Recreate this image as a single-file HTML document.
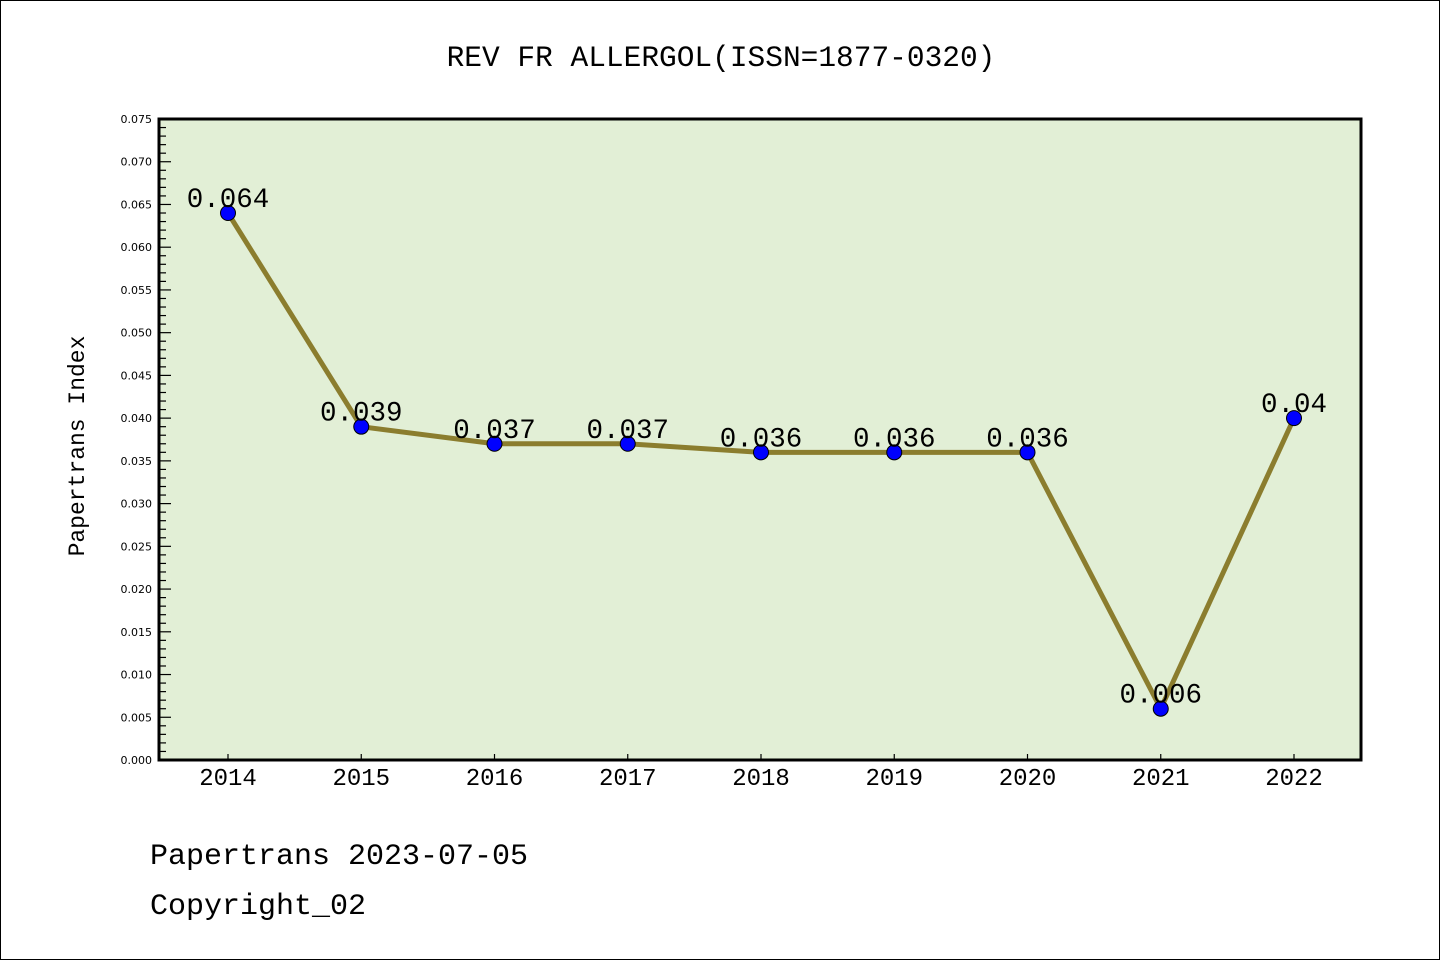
<!DOCTYPE html>
<html><head><meta charset="utf-8"><style>
html,body{margin:0;padding:0;background:#fff}
svg{display:block}
.wq{font-family:"WenQuanYi Zen Hei","Liberation Mono",monospace}
.dv{font-family:"DejaVu Sans","Liberation Sans",sans-serif}
</style></head><body>
<svg id="chart" width="1440" height="960" viewBox="0 0 1440 960" xmlns="http://www.w3.org/2000/svg">
<rect x="0.5" y="0.5" width="1439" height="959" fill="#fff" stroke="#000"/>
<text class="wq" x="721" y="66" text-anchor="middle" font-size="29.5">REV FR ALLERGOL(ISSN=1877-0320)</text>
<rect x="159" y="119" width="1202" height="641" fill="#e2efd6"/>
<g id="axes"></g>
<g id="marks"></g>
<rect x="159" y="119" width="1202" height="641" fill="none" stroke="#000" stroke-width="3"/>
<text class="wq" transform="translate(84,446) rotate(-90)" text-anchor="middle" font-size="23">Papertrans Index</text>
<text class="wq" x="150" y="864" font-size="30">Papertrans 2023-07-05</text>
<text class="wq" x="150" y="914" font-size="30">Copyright_02</text>
</svg>
<script>
const years = ["2014","2015","2016","2017","2018","2019","2020","2021","2022"];
const values = [0.064,0.039,0.037,0.037,0.036,0.036,0.036,0.006,0.04];
const valueLabels = ["0.064","0.039","0.037","0.037","0.036","0.036","0.036","0.006","0.04"];
const yTicks = [0,0.005,0.01,0.015,0.02,0.025,0.03,0.035,0.04,0.045,0.05,0.055,0.06,0.065,0.07,0.075];

const NS="http://www.w3.org/2000/svg";
const X0=159,X1=1361,Y0=760,Y1=119,YMAX=0.075;
const xScale=i=>228+i*(1294-228)/(years.length-1);
const yScale=v=>Y0-(v/YMAX)*(Y0-Y1);
function mk(tag,attrs,parent){const e=document.createElementNS(NS,tag);for(const k in attrs)e.setAttribute(k,attrs[k]);parent.appendChild(e);return e;}
const axes=document.getElementById('axes'),marks=document.getElementById('marks');
for(let k=0;k<=75;k++){const v=k*0.001;const y=yScale(v);const major=k%5===0;
 const t=mk('line',{x1:X0,x2:X0+(major?12:7),y1:y,y2:y,stroke:'#000','stroke-width':1.2},axes);
 
 }
yTicks.forEach(v=>{const t=mk('text',{x:152,y:yScale(v)+4,'text-anchor':'end','font-size':11,'class':'dv'},axes);t.textContent=v.toFixed(3);
 
 });
years.forEach((yr,i)=>{const x=xScale(i);
 const t=mk('line',{x1:x,x2:x,y1:Y0,y2:Y0-6,stroke:'#000','stroke-width':1.2},axes);
 
 
 const l=mk('text',{x:x,y:785,'text-anchor':'middle','font-size':24,'class':'wq'},axes);l.textContent=yr;
 
 });
const pts=values.map((v,i)=>xScale(i)+','+yScale(v)).join(' ');
const line=mk('polyline',{points:pts,fill:'none',stroke:'#8b7d2e','stroke-width':5},marks);


values.forEach((v,i)=>{
 const c=mk('circle',{cx:xScale(i),cy:yScale(v),r:7.5,fill:'#0000ff',stroke:'#000','stroke-width':1},marks);
 
 
 const t=mk('text',{x:xScale(i),y:yScale(v)-6,'text-anchor':'middle','font-size':27.5,'class':'wq'},marks);t.textContent=valueLabels[i];
 
 });
</script>
</body></html>
